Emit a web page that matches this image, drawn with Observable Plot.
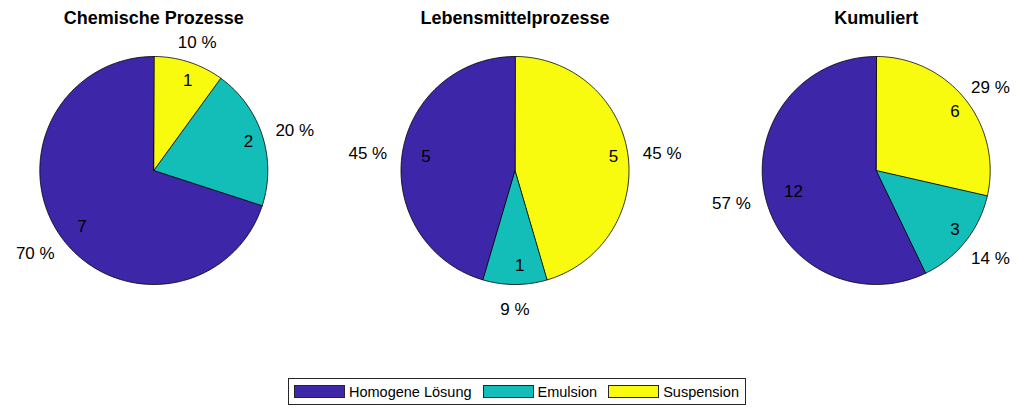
<!DOCTYPE html>
<html>
<head>
<meta charset="utf-8">
<script src="https://cdn.jsdelivr.net/npm/d3@7"></script>
<script src="https://cdn.jsdelivr.net/npm/@observablehq/plot@0.6"></script>
<style>
  html, body { margin: 0; padding: 0; background: #fff; }
  body { width: 1019px; height: 408px; position: relative; font-family: "Liberation Sans", Arial, Helvetica, sans-serif; }
  #legend { position: absolute; left: 288px; top: 378px; height: 25px; border: 1px solid #262626; display: flex; align-items: center; padding: 0 6px 0 5px; background: #fff; font-size: 14.5px; color: #000; }
  #legend .sw { width: 51px; height: 13px; box-sizing: border-box; border: 1px solid #262626; margin-right: 4px; }
  #legend .lab { margin-right: 11px; white-space: nowrap; }
  #legend .lab:last-child { margin-right: 0; }
</style>
</head>
<body>
<div id="chart"></div>
<div id="legend"></div>
<script>
// ---- data ----
const categories = ["Homogene Lösung", "Emulsion", "Suspension"];
const panelTitles = ["Chemische Prozesse", "Lebensmittelprozesse", "Kumuliert"];
const chemischeWerte = [7, 2, 1];
const lebensmittelWerte = [5, 1, 5];
const kumuliertWerte = [12, 3, 6];
const colors = ["#3E26A8", "#13BEB8", "#F9FB0E"];

// ---- layout ----
const W = 1019, H = 378;
const R = 114, cy = 170;
const cx0 = 153.3, dx = 361.2;
const panels = [chemischeWerte, lebensmittelWerte, kumuliertWerte];

const wedgePts = [];
const countLabels = [];
const pctLabels = [];
const titles = [];

panels.forEach((vals, p) => {
  const cx = cx0 + p * dx;
  titles.push({x: cx, y: 18, text: panelTitles[p]});
  const total = d3.sum(vals);
  // MATLAB pie: first category starts at 12 o'clock going counter-clockwise.
  // Expressed clockwise from top: last category first.
  let start = 0;
  for (let i = vals.length - 1; i >= 0; i--) {
    const frac = vals[i] / total;
    const a0 = start, a1 = start + frac * 2 * Math.PI;
    start = a1;
    const id = p + "-" + i;
    wedgePts.push({id, cat: categories[i], x: cx, y: cy});
    const n = Math.max(2, Math.ceil((a1 - a0) / (Math.PI / 180)));
    for (let k = 0; k <= n; k++) {
      const a = a0 + (a1 - a0) * k / n;
      wedgePts.push({id, cat: categories[i], x: cx + R * Math.sin(a), y: cy - R * Math.cos(a)});
    }
    const am = (a0 + a1) / 2;
    const ux = Math.sin(am), uy = -Math.cos(am);
    countLabels.push({x: cx + 0.83 * R * ux, y: cy + 0.83 * R * uy, text: String(vals[i])});
    pctLabels.push({x: cx + 1.2 * R * ux + 12 * ux * Math.abs(ux), y: cy + 1.2 * R * uy + 2.5, text: Math.round(100 * frac) + " %"});
  }
});

const font = "Liberation Sans, Arial, Helvetica, sans-serif";

const chart = Plot.plot({
  width: W,
  height: H,
  margin: 0,
  x: {domain: [0, W], range: [0, W], axis: null},
  y: {domain: [0, H], range: [0, H], axis: null},
  color: {domain: categories, range: colors},
  style: {fontFamily: font, background: "#fff", color: "#000", overflow: "visible"},
  marks: [
    Plot.line(wedgePts, {x: "x", y: "y", z: "id", fill: "cat", stroke: "#000", strokeWidth: 0.8, curve: "linear-closed", strokeLinejoin: "round"}),
    Plot.text(countLabels, {x: "x", y: "y", text: "text", textAnchor: "start", lineAnchor: "middle", fontSize: 17, fill: "#000"}),
    Plot.text(pctLabels, {x: "x", y: "y", text: "text", textAnchor: "middle", lineAnchor: "middle", fontSize: 17, fill: "#000"}),
    Plot.text(titles, {x: "x", y: "y", text: "text", textAnchor: "middle", lineAnchor: "middle", fontSize: 18, fontWeight: "bold", fill: "#000"})
  ]
});
document.getElementById("chart").appendChild(chart);

// ---- legend ----
const legend = d3.select("#legend");
categories.forEach((c, i) => {
  legend.append("div").attr("class", "sw").style("background", colors[i]);
  legend.append("div").attr("class", "lab").text(c);
});
</script>
</body>
</html>
